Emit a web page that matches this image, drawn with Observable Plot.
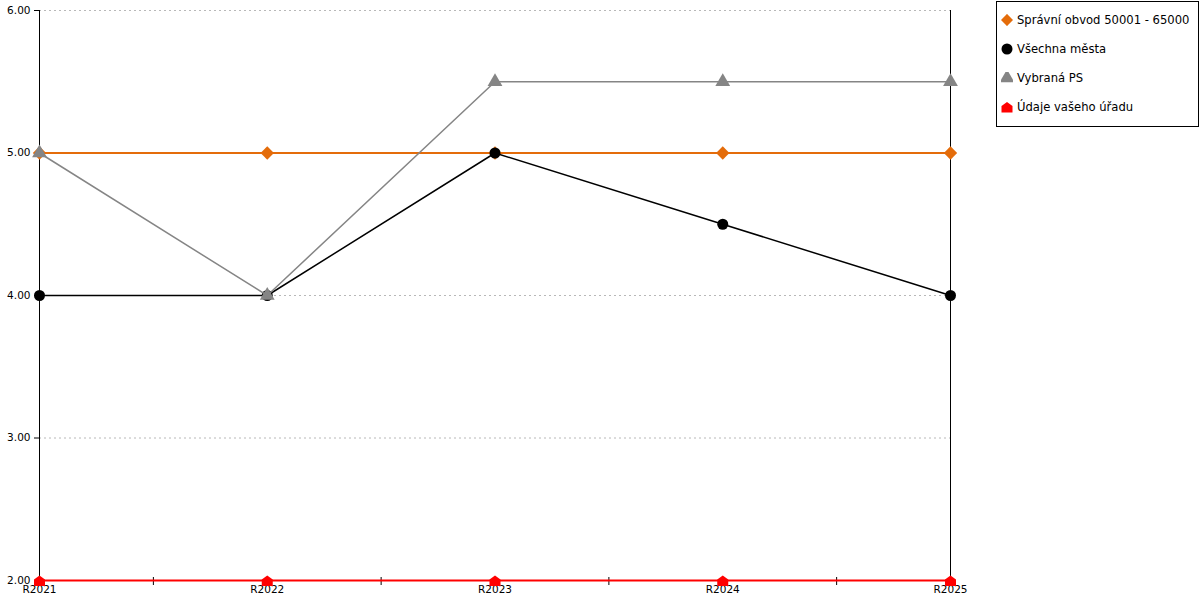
<!DOCTYPE html>
<html>
<head>
<meta charset="utf-8">
<script src="https://cdn.jsdelivr.net/npm/d3@7"></script>
<script src="https://cdn.jsdelivr.net/npm/@observablehq/plot@0.6"></script>
<style>
  body { margin: 0; background: white; font-family: "DejaVu Sans", sans-serif; }
  #wrap { position: relative; width: 1200px; height: 600px; }
  #legend { position: absolute; left: 996px; top: 1px; width: 201px; height: 124px; border: 1px solid black; background: white; }
  .item { position: absolute; left: 0; height: 16px; line-height: 16px; font-size: 11.6px; color: black; white-space: nowrap; }
  .item svg { position: absolute; left: 4px; top: 2px; }
  .item span { position: absolute; left: 20px; top: 0; }
</style>
</head>
<body>
<div id="wrap"><div id="chart"></div><div id="legend"></div></div>
<script>
const years = ["R2021", "R2022", "R2023", "R2024", "R2025"];
const sprObvod = [5, 5, 5, 5, 5];
const vsechnaMesta = [4, 4, 5, 4.5, 4];
const vybranaPS = [5, 4, 5.5, 5.5, 5.5];
const vasUrad = [2, 2, 2, 2, 2];
const seriesNames = ["Správní obvod 50001 - 65000", "Všechna města", "Vybraná PS", "Údaje vašeho úřadu"];
const yTicks = [2, 3, 4, 5, 6];

const house = {
  draw(context, size) {
    const k = Math.sqrt(size / (Math.PI * 25));
    context.moveTo(0, -4.5 * k);
    context.lineTo(5 * k, -1 * k);
    context.lineTo(5 * k, 5 * k);
    context.lineTo(-5 * k, 5 * k);
    context.lineTo(-5 * k, -1 * k);
    context.closePath();
  }
};

const series = [
  {name: seriesNames[0], values: sprObvod, color: "#E46C0A", symbol: "diamond2", r: 6, sw: 2},
  {name: seriesNames[1], values: vsechnaMesta, color: "#000000", symbol: "circle", r: 5.5, sw: 1.5},
  {name: seriesNames[2], values: vybranaPS, color: "#858585", symbol: "triangle", r: 5.5, sw: 1.5},
  {name: seriesNames[3], values: vasUrad, color: "#FF0000", symbol: house, r: 5.5, sw: 2}
];

const idx = years.map((_, i) => i);
const mids = idx.slice(0, -1).map(i => i + 0.5);

const marks = [
  Plot.gridY({ticks: yTicks.filter(t => t > 2), stroke: "#b8b8b8", strokeOpacity: 1, strokeDasharray: "2,3"}),
  Plot.ruleX([0, years.length - 1], {stroke: "black", strokeWidth: 1}),
  Plot.ruleY([2], {stroke: "black"}),
  Plot.axisY({ticks: yTicks, tickFormat: d3.format(".2f"), tickSize: 5, tickPadding: 4, label: null}),
  Plot.axisX({ticks: mids, tickFormat: () => "", tickSize: 8, dy: -3, label: null}),
  Plot.axisX({ticks: idx, tickFormat: i => years[i], tickSize: 0, tickPadding: 5, label: null})
];
for (const s of series) {
  marks.push(Plot.line(idx, {x: i => i, y: i => s.values[i], stroke: s.color, strokeWidth: s.sw}));
  marks.push(Plot.dot(idx, {x: i => i, y: i => s.values[i], symbol: s.symbol, fill: s.color, stroke: "none", r: s.r}));
}

const chart = Plot.plot({
  width: 1200,
  height: 600,
  marginLeft: 39,
  marginRight: 250,
  marginTop: 10,
  marginBottom: 20,
  style: {fontFamily: "DejaVu Sans", fontSize: "10.5px", color: "black", background: "white"},
  x: {type: "linear", domain: [0, years.length - 1]},
  y: {domain: [2, 6]},
  marks
});
document.getElementById("chart").appendChild(chart);

// legend
const legend = d3.select("#legend");
const centers = [18, 47, 76, 105];
series.forEach((s, j) => {
  const item = legend.append("div").attr("class", "item").style("top", (centers[j] - 8) + "px");
  const svg = item.append("svg").attr("width", 12).attr("height", 12);
  let symType;
  if (s.symbol === "diamond2") symType = d3.symbolDiamond2;
  else if (s.symbol === "circle") symType = d3.symbolCircle;
  else if (s.symbol === "triangle") symType = d3.symbolTriangle;
  else symType = s.symbol;
  const rr = Math.min(s.r, 5.5);
  const size = Math.PI * rr * rr;
  svg.append("path")
    .attr("transform", "translate(6,6)")
    .attr("d", d3.symbol(symType, size)())
    .attr("fill", s.color);
  item.append("span").text(s.name);
});
</script>
</body>
</html>
